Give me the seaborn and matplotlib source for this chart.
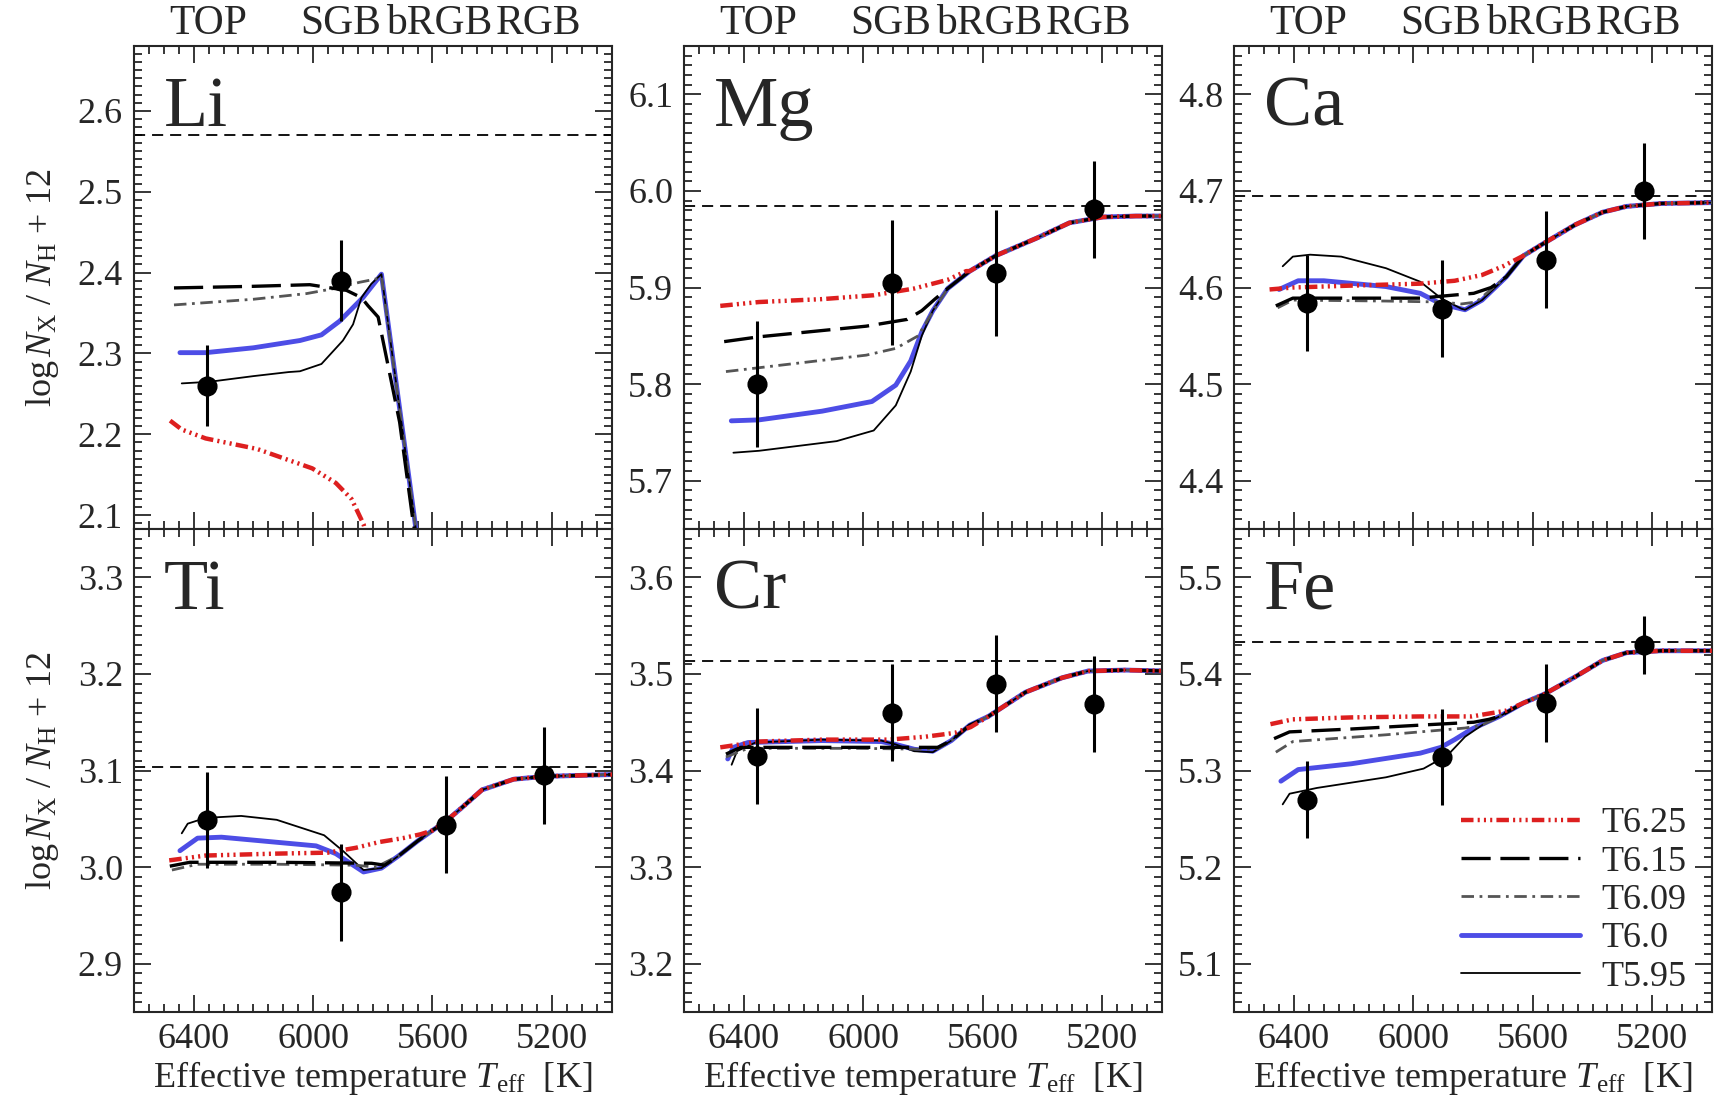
import matplotlib
matplotlib.use("Agg")
import matplotlib.pyplot as plt
from matplotlib.lines import Line2D
from matplotlib.ticker import MultipleLocator
import seaborn as sns

# ====================== 数据 ======================
teff_stars = [6355, 5905, 5555, 5228]
groups = ["TOP", "SGB", "bRGB", "RGB"]
group_label_teff = [6352, 5907, 5579, 5246]
models = ["T6.25", "T6.15", "T6.09", "T6.0", "T5.95"]
elements = ["Li", "Mg", "Ca", "Ti", "Cr", "Fe"]

# observed abundances (Li only for TOP and SGB)
li_obs = [2.26, 2.39]
li_err = [0.05, 0.05]
mg_obs = [5.80, 5.905, 5.915, 5.981]
mg_err = [0.065, 0.065, 0.065, 0.05]
ca_obs = [4.584, 4.578, 4.629, 4.700]
ca_err = [0.05, 0.05, 0.05, 0.05]
ti_obs = [3.049, 2.974, 3.044, 3.095]
ti_err = [0.05, 0.05, 0.05, 0.05]
cr_obs = [3.415, 3.460, 3.490, 3.469]
cr_err = [0.05, 0.05, 0.05, 0.05]
fe_obs = [5.270, 5.314, 5.370, 5.430]
fe_err = [0.04, 0.05, 0.04, 0.03]

# initial abundances (dashed line)
initial = {"Li": 2.57, "Mg": 5.984, "Ca": 4.695, "Ti": 3.104, "Cr": 3.513, "Fe": 5.433}

# model curves: (Teff, abundance) per model
li_models = {
    "T6.25": ([6479, 6440, 6360, 6188, 6003, 5924, 5871, 5831, 5810],
              [2.217, 2.206, 2.195, 2.182, 2.158, 2.140, 2.120, 2.089, 2.06]),
    "T6.15": ([6466, 6200, 6011, 5888, 5838, 5816, 5782, 5710, 5665, 5640],
              [2.381, 2.383, 2.385, 2.378, 2.369, 2.359, 2.345, 2.215, 2.092, 2.04]),
    "T6.09": ([6466, 6200, 6022, 5933, 5844, 5790, 5771, 5654, 5640],
              [2.360, 2.367, 2.374, 2.380, 2.388, 2.392, 2.395, 2.079, 2.04]),
    "T6.0": ([6446, 6360, 6200, 6044, 5972, 5911, 5833, 5771, 5654, 5640],
             [2.301, 2.301, 2.307, 2.316, 2.323, 2.340, 2.369, 2.398, 2.079, 2.04]),
    "T5.95": ([6440, 6347, 6200, 6082, 6044, 5972, 5900, 5866, 5838, 5805, 5771, 5640],
              [2.263, 2.265, 2.272, 2.277, 2.278, 2.287, 2.316, 2.336, 2.369, 2.386, 2.398, 2.04]),
}
li_tail = ([], [])

mg_models = {
    "T6.25": ([6479, 6349, 6138, 5965, 5829, 5717, 5655],
              [5.881, 5.885, 5.888, 5.892, 5.899, 5.908, 5.917]),
    "T6.15": ([6466, 6349, 5990, 5853, 5804, 5760, 5717],
              [5.844, 5.849, 5.860, 5.867, 5.876, 5.888, 5.899]),
    "T6.09": ([6460, 6349, 5990, 5891, 5816, 5779, 5740, 5717],
              [5.813, 5.817, 5.830, 5.837, 5.850, 5.869, 5.888, 5.899]),
    "T6.0": ([6442, 6349, 6138, 5971, 5891, 5841, 5804, 5767, 5717],
             [5.762, 5.763, 5.772, 5.782, 5.799, 5.824, 5.854, 5.876, 5.899]),
    "T5.95": ([6435, 6349, 6089, 5965, 5891, 5841, 5804, 5767, 5717],
              [5.729, 5.731, 5.741, 5.752, 5.778, 5.813, 5.850, 5.876, 5.899]),
}
mg_tail = ([5643, 5556, 5420, 5309, 5197, 5086, 4980],
           [5.917, 5.933, 5.951, 5.967, 5.973, 5.974, 5.974])

ca_models = {
    "T6.25": ([6482, 6404, 6208, 5977, 5862, 5770, 5700],
              [4.598, 4.600, 4.602, 4.604, 4.607, 4.613, 4.622]),
    "T6.15": ([6461, 6404, 6208, 5977, 5908, 5798, 5740, 5689],
              [4.581, 4.589, 4.589, 4.589, 4.591, 4.594, 4.600, 4.611]),
    "T6.09": ([6455, 6404, 6092, 5908, 5839, 5790, 5740, 5689],
              [4.579, 4.587, 4.586, 4.585, 4.583, 4.585, 4.598, 4.611]),
    "T6.0": ([6450, 6386, 6300, 6092, 5977, 5908, 5827, 5770, 5689],
             [4.598, 4.607, 4.607, 4.601, 4.594, 4.583, 4.577, 4.587, 4.611]),
    "T5.95": ([6438, 6404, 6346, 6242, 6092, 5977, 5908, 5839, 5827, 5770, 5689],
              [4.622, 4.632, 4.634, 4.632, 4.620, 4.606, 4.589, 4.578, 4.577, 4.587, 4.611]),
}
ca_tail = ([5631, 5562, 5458, 5366, 5286, 5170, 4980],
           [4.633, 4.646, 4.665, 4.678, 4.684, 4.687, 4.688])

ti_models = {
    "T6.25": ([6482, 6360, 6122, 5950, 5857, 5778, 5699, 5640],
              [3.007, 3.012, 3.014, 3.015, 3.020, 3.026, 3.030, 3.034]),
    "T6.15": ([6480, 6413, 6122, 5804, 5760, 5712, 5650],
              [3.001, 3.005, 3.005, 3.004, 3.002, 3.012, 3.027]),
    "T6.09": ([6473, 6387, 6122, 5857, 5790, 5712, 5650],
              [2.997, 3.003, 3.003, 3.002, 3.000, 3.012, 3.027]),
    "T6.0": ([6446, 6387, 6307, 5990, 5924, 5831, 5771, 5712, 5650],
             [3.017, 3.030, 3.031, 3.022, 3.014, 2.995, 2.999, 3.012, 3.027]),
    "T5.95": ([6440, 6420, 6360, 6241, 6122, 5963, 5897, 5831, 5771, 5712, 5650],
              [3.035, 3.045, 3.051, 3.053, 3.049, 3.033, 3.016, 2.997, 2.999, 3.012, 3.027]),
}
ti_tail = ([5600, 5557, 5500, 5434, 5328, 5222, 4980],
           [3.038, 3.047, 3.062, 3.080, 3.091, 3.094, 3.096])

cr_models = {
    "T6.25": ([6479, 6349, 6138, 5915, 5792, 5693, 5640],
              [3.424, 3.430, 3.432, 3.432, 3.435, 3.439, 3.445]),
    "T6.15": ([6460, 6411, 6138, 5792, 5750, 5705, 5643],
              [3.417, 3.424, 3.424, 3.424, 3.424, 3.431, 3.447]),
    "T6.09": ([6460, 6386, 6014, 5792, 5750, 5705, 5643],
              [3.414, 3.423, 3.423, 3.422, 3.423, 3.431, 3.447]),
    "T6.0": ([6454, 6435, 6386, 6138, 5940, 5891, 5829, 5767, 5705, 5643],
             [3.412, 3.424, 3.429, 3.431, 3.430, 3.427, 3.422, 3.420, 3.431, 3.447]),
    "T5.95": ([6441, 6423, 6361, 6138, 5940, 5891, 5829, 5767, 5705, 5643],
              [3.406, 3.420, 3.429, 3.432, 3.431, 3.427, 3.420, 3.419, 3.431, 3.447]),
}
cr_tail = ([5581, 5457, 5334, 5247, 5123, 4980],
           [3.456, 3.481, 3.496, 3.503, 3.504, 3.503])

fe_models = {
    "T6.25": ([6479, 6404, 6208, 5977, 5804, 5689],
              [5.348, 5.353, 5.355, 5.356, 5.356, 5.362]),
    "T6.15": ([6467, 6415, 6208, 5977, 5798, 5747, 5712],
              [5.333, 5.340, 5.343, 5.347, 5.350, 5.353, 5.356]),
    "T6.09": ([6461, 6404, 6092, 5827, 5770, 5712],
              [5.319, 5.330, 5.337, 5.344, 5.347, 5.356]),
    "T6.0": ([6444, 6386, 6208, 5977, 5908, 5862, 5804, 5712],
             [5.289, 5.301, 5.307, 5.318, 5.324, 5.332, 5.343, 5.356]),
    "T5.95": ([6438, 6415, 6323, 6092, 5966, 5885, 5827, 5770, 5712],
              [5.265, 5.276, 5.282, 5.293, 5.302, 5.316, 5.335, 5.347, 5.356]),
}
fe_tail = ([5631, 5562, 5458, 5366, 5286, 5170, 4980],
           [5.370, 5.379, 5.397, 5.414, 5.422, 5.424, 5.424])

ylims = {"Li": (2.083, 2.68), "Mg": (5.65, 6.15), "Ca": (4.35, 4.85),
         "Ti": (2.85, 3.35), "Cr": (3.15, 3.65), "Fe": (5.05, 5.55)}

panels = {
    "Li": (li_models, li_tail, li_obs, li_err),
    "Mg": (mg_models, mg_tail, mg_obs, mg_err),
    "Ca": (ca_models, ca_tail, ca_obs, ca_err),
    "Ti": (ti_models, ti_tail, ti_obs, ti_err),
    "Cr": (cr_models, cr_tail, cr_obs, cr_err),
    "Fe": (fe_models, fe_tail, fe_obs, fe_err),
}

# ====================== 样式 ======================
styles = {
    "T6.25": dict(color="#dd1f1f", lw=3.2, linestyle=(0, (9, 3, 1.5, 3, 1.5, 3, 1.5, 3)), zorder=6),
    "T6.15": dict(color="black", lw=2.4, linestyle=(0, (21, 7)), zorder=5),
    "T6.09": dict(color="#555555", lw=2.0, linestyle=(0, (9, 4, 2, 4)), zorder=4),
    "T6.0": dict(color="#4d4de6", lw=3.5, linestyle="-", zorder=2),
    "T5.95": dict(color="black", lw=1.3, linestyle="-", zorder=3),
}

sns.set_style("ticks")
plt.rcParams["font.family"] = "serif"
plt.rcParams["font.serif"] = ["Liberation Serif", "DejaVu Serif"]
plt.rcParams["mathtext.fontset"] = "custom"
plt.rcParams["mathtext.rm"] = "Liberation Serif"
plt.rcParams["mathtext.it"] = "Liberation Serif:italic"
plt.rcParams["lines.scale_dashes"] = False
plt.rcParams["axes.linewidth"] = 1.5

fig, axes = plt.subplots(2, 3, figsize=(17.2, 11.01), dpi=100)
fig.subplots_adjust(left=0.0779, right=0.9953, bottom=0.0808, top=0.9582,
                    wspace=0.152, hspace=0)

for ax, el in zip(axes.flat, elements):
    mods, tail, obs, err = panels[el]
    for m in models:
        T, y = mods[m]
        st = styles[m]
        sns.lineplot(x=T + tail[0], y=y + tail[1], ax=ax, sort=False, estimator=None,
                     legend=False, **st)
    ax.axhline(initial[el], color="black", lw=1.3, linestyle=(0, (8, 5)), zorder=1)

    tt = teff_stars[:len(obs)]
    ax.errorbar(tt, obs, yerr=err, fmt="none", ecolor="black", elinewidth=2.2, capsize=0, zorder=9)
    sns.scatterplot(x=tt, y=obs, ax=ax, color="black", s=180, edgecolor="black", zorder=10, legend=False)

    ax.set_xlim(6600, 5000)
    ax.set_ylim(*ylims[el])
    ax.xaxis.set_major_locator(MultipleLocator(400))
    ax.xaxis.set_minor_locator(MultipleLocator(50))
    ax.yaxis.set_major_locator(MultipleLocator(0.1))
    ax.yaxis.set_minor_locator(MultipleLocator(0.01))
    ax.tick_params(which="both", direction="in", top=True, right=True, width=1.3,
                   labelsize=26, pad=8)
    ax.tick_params(which="major", length=12)
    ax.tick_params(which="minor", length=6)
    ax.set_xlabel("")
    ax.set_ylabel("")
    ax.text(0.063, 0.835, el, transform=ax.transAxes, fontsize=52, ha="left", va="baseline")

for ax in axes[0]:
    ax.tick_params(labelbottom=False)
    for t, g in zip(group_label_teff, groups):
        ax.text(t, 1.007, g, transform=ax.get_xaxis_transform(), ha="center", va="bottom", fontsize=30)

for ax in axes[1]:
    ax.set_xlabel(r"Effective temperature $T_{\rm eff}$  [K]", fontsize=26, labelpad=2)

for ax in axes[:, 0]:
    ax.set_ylabel(r"$\log N_{\rm X}\ /\ N_{\rm H}$ + 12", fontsize=26, labelpad=12)

# legend
handles = [Line2D([0], [0], **{k: v for k, v in styles[m].items() if k != "zorder"}) for m in models]
axes[1, 2].legend(handles, models, loc="lower right", bbox_to_anchor=(1.0, -0.014), frameon=False,
                  fontsize=26, handlelength=3.3, handletextpad=0.6, labelspacing=0.14,
                  borderaxespad=0.3)

plt.savefig("out.png", dpi=100)
plt.close()
